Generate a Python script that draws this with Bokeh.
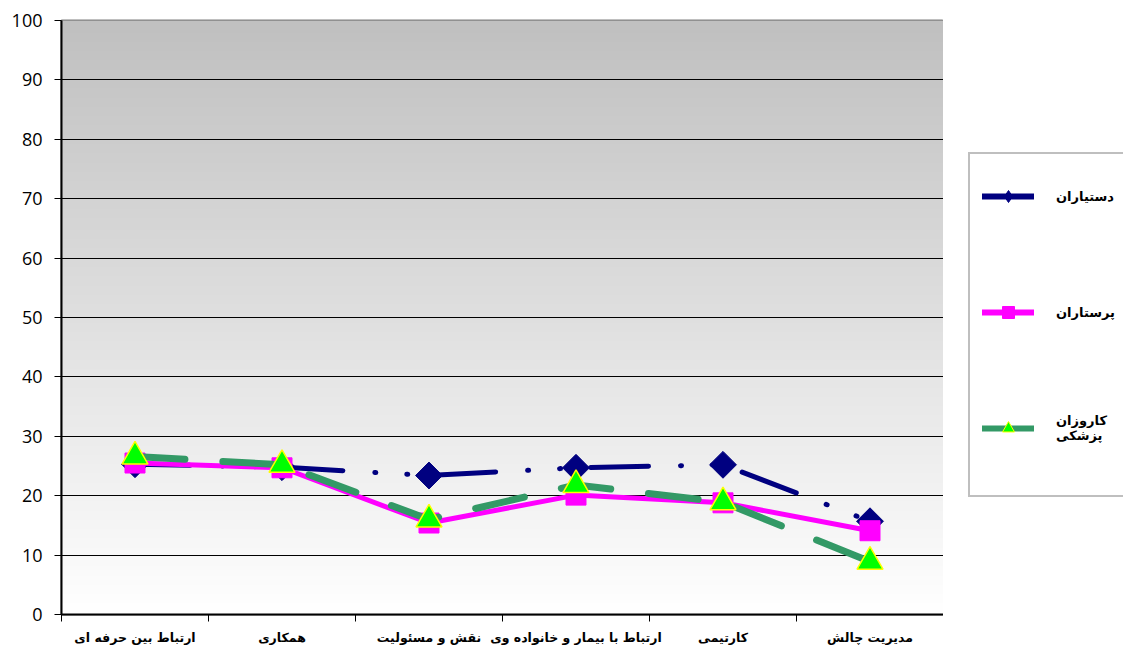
import numpy as np
from bokeh.plotting import figure
from bokeh.layouts import row
from bokeh.models import FixedTicker, Legend, LegendItem
from bokeh.embed import file_html
from bokeh.resources import INLINE

# ---- data ----
categories = ["ارتباط بین حرفه ای", "همکاری", "نقش و مسئولیت",
              "ارتباط با بیمار و خانواده وی", "کارتیمی", "مدیریت چالش"]
residents = [25.3, 24.8, 23.4, 24.7, 25.2, 15.7]   # دستیاران
nurses = [25.5, 24.7, 15.4, 20.1, 18.8, 14.1]      # پرستاران
interns = [26.6, 25.2, 16.0, 21.8, 18.9, 8.9]      # کاروزان پزشکی
series_names = ["دستیاران", "پرستاران", "کاروزان\nپزشکی"]
y_ticks = list(range(0, 101, 10))

n_cat = len(categories)
x = [i + 0.5 for i in range(n_cat)]
boundaries = list(range(n_cat + 1))

H = 647
PW = 943          # main figure width (frame ends at its right edge)
LW = 180          # legend panel width
FRAME_BOTTOM = 614

p = figure(width=PW, height=H, x_range=(0, n_cat), y_range=(0, 100),
           output_backend="svg", toolbar_location=None,
           min_border_left=61, min_border_right=0,
           min_border_top=20, min_border_bottom=H - FRAME_BOTTOM)
p.background_fill_color = "white"
p.border_fill_color = "white"
p.outline_line_color = "#808080"
p.outline_line_width = 2

# vertical gradient background (gray at top -> white at bottom)
n = 256
g = np.linspace(255, 192, n).astype(np.uint8)
img = np.empty((n, 1), dtype=np.uint32)
view = img.view(dtype=np.uint8).reshape((n, 1, 4))
view[:, 0, 0] = g
view[:, 0, 1] = g
view[:, 0, 2] = g
view[:, 0, 3] = 255
p.image_rgba(image=[img], x=0, y=0, dw=n_cat, dh=100, level="image")

# axes
p.xaxis.ticker = FixedTicker(ticks=x, minor_ticks=boundaries)
p.xaxis.major_label_overrides = {xi: c for xi, c in zip(x, categories)}
p.xaxis.major_tick_line_color = None
p.xaxis.major_tick_out = 0
p.xaxis.major_tick_in = 0
p.xaxis.minor_tick_line_color = "black"
p.xaxis.minor_tick_out = 7
p.xaxis.minor_tick_in = 0
p.xaxis.axis_line_color = "black"
p.xaxis.axis_line_width = 2
p.xaxis.major_label_standoff = 8
p.xaxis.major_label_text_font = "DejaVu Sans"
p.xaxis.major_label_text_font_style = "bold"
p.xaxis.major_label_text_font_size = "12.5px"
p.xaxis.major_label_text_color = "black"

p.yaxis.ticker = FixedTicker(ticks=y_ticks, minor_ticks=[])
p.yaxis.major_tick_out = 7
p.yaxis.major_tick_in = 0
p.yaxis.major_tick_line_color = "black"
p.yaxis.axis_line_color = "black"
p.yaxis.axis_line_width = 2
p.yaxis.major_label_standoff = 12
p.yaxis.major_label_text_font = "Open Sans"
p.yaxis.major_label_text_font_size = "18px"
p.yaxis.major_label_text_color = "black"

p.xgrid.grid_line_color = None
p.ygrid.grid_line_color = "black"
p.ygrid.grid_line_width = 1

# series
p.line(x, residents, line_color="#000080", line_width=5,
       line_dash="58 32 1 31 1 30", line_dash_offset=3, line_cap="round")
p.scatter(x, residents, marker="square", angle=np.pi / 4, size=19,
          fill_color="#000080", line_color="#000080")

p.line(x, nurses, line_color="#ff00ff", line_width=5)
p.scatter(x, nurses, marker="square", size=20,
          fill_color="#ff00ff", line_color="#ff00ff")

p.line(x, interns, line_color="#339966", line_width=7,
       line_dash="50 38", line_cap="round")
p.scatter(x, interns, marker="triangle", size=26,
          fill_color="#00ff00", line_color="#ffff00", line_width=1.5)

# ---- legend panel (separate figure, hidden copies of the series) ----
lf = figure(width=LW, height=H, x_range=(0, n_cat), y_range=(0, 100),
            output_backend="svg", toolbar_location=None,
            x_axis_type=None, y_axis_type=None, min_border=0)
lf.outline_line_color = None
lf.grid.grid_line_color = None
lf.background_fill_color = "white"
lf.border_fill_color = "white"

l1 = lf.line(x, residents, line_color="#000080", line_width=6, line_cap="round", visible=False)
m1 = lf.scatter(x, residents, marker="diamond", size=12, fill_color="#000080",
                line_color="#000080", visible=False)
l2 = lf.line(x, nurses, line_color="#ff00ff", line_width=6, line_cap="round", visible=False)
m2 = lf.scatter(x, nurses, marker="square", size=12, fill_color="#ff00ff",
                line_color="#ff00ff", visible=False)
l3 = lf.line(x, interns, line_color="#339966", line_width=6, line_cap="round", visible=False)
m3 = lf.scatter(x, interns, marker="triangle", size=12, fill_color="#00ff00",
                line_color="#ffff00", visible=False)

legend = Legend(items=[
    LegendItem(label=series_names[0], renderers=[l1, m1]),
    LegendItem(label=series_names[1], renderers=[l2, m2]),
    LegendItem(label=series_names[2], renderers=[l3, m3]),
], location=(25, FRAME_BOTTOM - 497))
legend.margin = 0
legend.glyph_width = 52
legend.glyph_height = 30
legend.label_height = 60
legend.padding = 12
legend.spacing = 56
legend.label_standoff = 22
legend.title = " "
legend.title_location = "below"
legend.title_standoff = 10
legend.title_text_font_size = "13px"
legend.border_line_color = "#808080"
legend.border_line_width = 2
legend.background_fill_color = "white"
legend.background_fill_alpha = 1
legend.label_text_font = "DejaVu Sans"
legend.label_text_font_style = "bold"
legend.label_text_font_size = "13px"
legend.label_text_color = "black"
lf.add_layout(legend, "center")

layout = row(p, lf, spacing=0)
open("out.html", "w").write(file_html(layout, INLINE))
